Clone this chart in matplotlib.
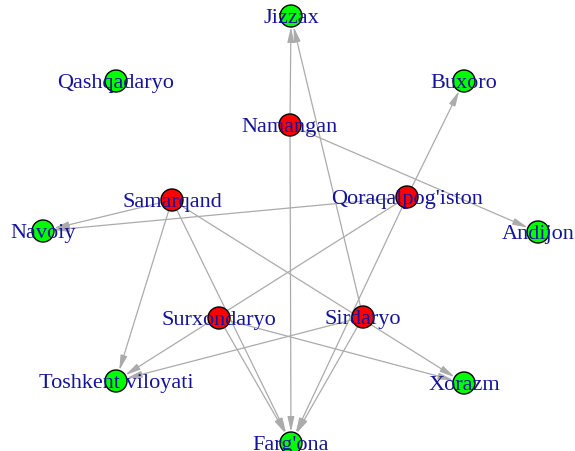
import matplotlib.pyplot as plt
from matplotlib.patches import Circle

# Nodes (layout in pixel-like units, y goes down)
names = ["Jizzax", "Qashqadaryo", "Buxoro", "Namangan", "Samarqand",
         "Qoraqalpog'iston", "Navoiy", "Andijon", "Surxondaryo", "Sirdaryo",
         "Toshkent viloyati", "Xorazm", "Farg'ona"]
pos_x = [291, 116, 464, 290, 172, 407, 43, 538, 219, 363, 116, 464, 291]
pos_y = [17, 82, 82, 126, 201, 198, 232, 233, 319, 318, 382, 384, 444]
is_source = [False, False, False, True, True, True, False, False, True, True,
             False, False, False]

# Directed edges: source -> target
edge_from = ["Namangan", "Namangan", "Namangan",
             "Samarqand", "Samarqand", "Samarqand", "Samarqand",
             "Qoraqalpog'iston", "Qoraqalpog'iston", "Qoraqalpog'iston", "Qoraqalpog'iston",
             "Surxondaryo", "Surxondaryo",
             "Sirdaryo", "Sirdaryo", "Sirdaryo"]
edge_to = ["Jizzax", "Farg'ona", "Andijon",
           "Navoiy", "Toshkent viloyati", "Farg'ona", "Xorazm",
           "Buxoro", "Navoiy", "Toshkent viloyati", "Farg'ona",
           "Farg'ona", "Xorazm",
           "Jizzax", "Toshkent viloyati", "Farg'ona"]

node_r = 11
idx = {n: i for i, n in enumerate(names)}

fig = plt.figure(figsize=(5.75, 4.52), dpi=100)
ax = fig.add_axes([0, 0, 1, 1])
ax.set_xlim(0, 575)
ax.set_ylim(452, 0)
ax.axis("off")

for a, b in zip(edge_from, edge_to):
    i, j = idx[a], idx[b]
    ax.annotate("", xy=(pos_x[j], pos_y[j]), xytext=(pos_x[i], pos_y[i]),
                arrowprops=dict(arrowstyle="-|>,head_length=0.9,head_width=0.2",
                                color="#ABABAB", lw=0.9,
                                shrinkA=0, shrinkB=node_r * 0.72),
                zorder=1)

for x, y, src in zip(pos_x, pos_y, is_source):
    ax.add_patch(Circle((x, y), node_r, facecolor="#FF0000" if src else "#00FF00",
                        edgecolor="black", lw=1.0, zorder=2))

for n, x, y in zip(names, pos_x, pos_y):
    ax.text(x, y + 1.5, n, ha="center", va="center", fontsize=16,
            family="Liberation Serif", color="#14149A", zorder=3)

fig.savefig("out.png", dpi=100)
